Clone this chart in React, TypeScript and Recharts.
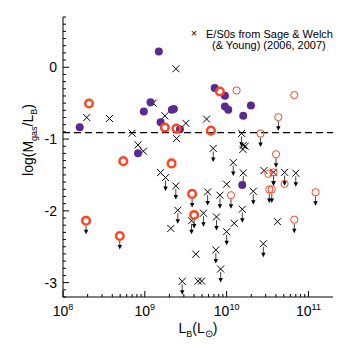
import React from 'react';
import { ScatterChart, Scatter, XAxis, YAxis, ReferenceLine } from 'recharts';

// [log10(L_B), log(Mgas/L_B)]
const purpleDetections: [number, number][] = [
  [9.171, 0.22], [9.07, -0.488], [8.988, -0.616], [9.193, -0.767], [9.33, -0.593],
  [9.355, -0.583], [9.429, -0.865], [8.204, -0.834], [8.917, -1.197], [9.854, -0.29],
  [9.979, -0.397], [9.979, -0.547], [10.02, -0.593], [10.297, -0.533], [10.203, -0.676],
  [10.191, -1.639],
];

const thickDetections: [number, number][] = [
  [8.318, -0.505], [9.245, -0.84], [9.386, -0.854], [9.918, -0.338], [9.808, -0.883],
  [8.737, -1.308], [9.327, -1.339],
];
const thickLimits: [number, number][] = [
  [9.578, -1.764], [9.603, -2.057], [8.282, -2.137], [8.694, -2.35],
];

const thinDetections: [number, number][] = [
  [10.122, -0.324], [10.827, -0.388], [10.51, -1.485], [10.708, -1.625],
];
const thinLimits: [number, number][] = [
  [10.632, -0.695], [10.414, -0.923], [10.604, -1.211], [10.573, -1.464], [10.053, -1.782],
  [10.521, -1.702], [10.552, -1.702], [11.087, -1.741], [10.827, -2.123],
];

const crossDetections: [number, number][] = [
  [9.38, -0.021], [9.102, -0.499], [8.29, -0.7], [8.568, -0.714], [9.245, -0.676],
  [9.502, -0.781], [9.755, -0.722], [8.845, -0.918], [9.388, -0.994], [8.917, -1.081],
  [8.982, -1.169], [10.203, -1.088], [10.227, -1.099], [10.199, -1.144], [9.193, -1.467],
  [9.318, -2.245], [10.457, -1.439], [10.0, -1.629], [10.093, -2.173], [10.622, -2.151],
  [9.624, -2.604], [9.652, -2.978], [9.694, -2.978],
];
const crossLimits: [number, number][] = [
  [9.253, -1.537], [9.379, -1.653], [9.403, -1.992], [9.571, -2.138], [9.457, -2.982],
  [9.836, -1.13], [10.183, -0.921], [10.081, -1.328], [10.203, -1.471], [10.573, -1.462],
  [10.708, -1.464], [10.845, -1.476], [9.768, -1.736], [9.918, -1.782], [10.326, -1.727],
  [9.717, -2.033], [9.876, -2.085], [10.191, -1.978], [10.0, -2.29], [10.449, -2.459],
  [9.868, -2.545], [9.927, -2.81],
];

const dashedLevel = -0.91;

const xMajor = [8, 9, 10, 11];
const xMinorFactors = [2, 3, 4, 5, 6, 7, 8, 9];
const yMajor = [-3, -2, -1, 0];
const xDomain: [number, number] = [8, 11.3];
const yDomain: [number, number] = [-3.2, 0.7];

const xTicks: number[] = [];
xMajor.forEach(e => {
  xTicks.push(e);
  xMinorFactors.forEach(f => {
    const v = e + Math.log10(f);
    if (v < xDomain[1]) xTicks.push(v);
  });
});
const yTicks: number[] = [];
for (let i = -32; i <= 7; i++) yTicks.push(Math.round(i) / 10);

const toPoints = (arr: [number, number][], ul: boolean) => arr.map(([x, y]) => ({ x, y, ul }));

const FONT = '"Liberation Sans", Arial, Helvetica, sans-serif';
const RED = '#ff4424';
const PURPLE = '#5a2a8e';

const isMajor = (v: number) => Math.abs(v - Math.round(v)) < 1e-6;

const Arrow = ({ cx, cy, start }: { cx: number; cy: number; start: number }) => (
  <g>
    <line x1={cx} y1={cy + start} x2={cx} y2={cy + 10} stroke="#444" strokeWidth={1} />
    <path d={`M${cx - 2.2},${cy + 9}L${cx + 2.2},${cy + 9}L${cx},${cy + 13.5}Z`} fill="#000" />
  </g>
);

const CrossShape = (props: any) => {
  const { cx, cy, payload } = props;
  const s = 3.5;
  return (
    <g>
      <path
        d={`M${cx - s},${cy - s}L${cx + s},${cy + s}M${cx - s},${cy + s}L${cx + s},${cy - s}`}
        stroke="#000"
        strokeWidth={1}
      />
      {payload.ul && <Arrow cx={cx} cy={cy} start={3} />}
    </g>
  );
};

const ThickShape = (props: any) => {
  const { cx, cy, payload } = props;
  return (
    <g>
      {payload.ul && <Arrow cx={cx} cy={cy} start={5} />}
      <circle cx={cx} cy={cy} r={3.8} fill="none" stroke={RED} strokeWidth={2.5} />
    </g>
  );
};

const ThinShape = (props: any) => {
  const { cx, cy, payload } = props;
  return (
    <g>
      {payload.ul && <Arrow cx={cx} cy={cy} start={4} />}
      <circle cx={cx} cy={cy} r={3.6} fill="none" stroke={RED} strokeWidth={1} />
    </g>
  );
};

const PurpleShape = (props: any) => {
  const { cx, cy } = props;
  return <circle cx={cx} cy={cy} r={4} fill={PURPLE} />;
};

const BottomTick = (props: any) => {
  const { x, y, payload } = props;
  const v = payload.value;
  const major = isMajor(v);
  return (
    <g>
      <line x1={x} y1={y} x2={x} y2={y - (major ? 6 : 3)} stroke="#000" />
      {major && (
        <text x={x} y={y + 19} textAnchor="middle" fontSize={14} fontFamily={FONT} fill="#000">
          10
          <tspan dy={-6} fontSize={9}>{Math.round(v)}</tspan>
        </text>
      )}
    </g>
  );
};

const TopTick = (props: any) => {
  const { x, y, payload } = props;
  const major = isMajor(payload.value);
  return <line x1={x} y1={y} x2={x} y2={y + (major ? 6 : 3)} stroke="#000" />;
};

const LeftTick = (props: any) => {
  const { x, y, payload } = props;
  const v = payload.value;
  const major = isMajor(v);
  return (
    <g>
      <line x1={x} y1={y} x2={x + (major ? 6 : 3)} y2={y} stroke="#000" />
      {major && (
        <text x={x - 6} y={y + 5} textAnchor="end" fontSize={14} fontFamily={FONT} fill="#000">
          {String(Math.round(v))}
        </text>
      )}
    </g>
  );
};

const RightTick = (props: any) => {
  const { x, y, payload } = props;
  const major = isMajor(payload.value);
  return <line x1={x} y1={y} x2={x - (major ? 6 : 3)} y2={y} stroke="#000" />;
};

const XTitle = (props: any) => {
  const { viewBox } = props;
  const cx = viewBox.x + viewBox.width / 2;
  return (
    <text x={cx} y={viewBox.y + 36} textAnchor="middle" fontSize={14} fontFamily={FONT} fill="#000">
      L<tspan dy={4} fontSize={9}>B</tspan>
      <tspan dy={-4}>(L</tspan>
      <tspan dy={4} fontSize={10}>⊙</tspan>
      <tspan dy={-4}>)</tspan>
    </text>
  );
};

const YTitle = () => (
  <text
    x={0}
    y={0}
    transform="translate(33, 140) rotate(-90)"
    textAnchor="middle"
    fontSize={14}
    fontFamily={FONT}
    fill="#000"
  >
    log(M<tspan dy={4} fontSize={9}>gas</tspan>
    <tspan dy={-4}>/L</tspan>
    <tspan dy={4} fontSize={9}>B</tspan>
    <tspan dy={-4}>)</tspan>
  </text>
);

export default function App() {
  return (
    <div style={{ position: 'absolute', left: 0, top: 0, width: 350, height: 350, background: '#fff' }}>
      <ScatterChart width={350} height={350} margin={{ top: 17, right: 17, bottom: 18, left: 23 }}>
        <XAxis
          xAxisId="b"
          type="number"
          dataKey="x"
          domain={xDomain}
          allowDataOverflow
          ticks={xTicks}
          interval={0}
          tickSize={0}
          tickMargin={0}
          tick={<BottomTick />}
          height={35}
          axisLine={{ stroke: '#000' }}
          label={<XTitle />}
        />
        <XAxis
          xAxisId="t"
          orientation="top"
          type="number"
          dataKey="x"
          domain={xDomain}
          allowDataOverflow
          ticks={xTicks}
          interval={0}
          tickSize={0}
          tickMargin={0}
          tick={<TopTick />}
          height={0}
          axisLine={{ stroke: '#000' }}
        />
        <YAxis
          yAxisId="l"
          type="number"
          dataKey="y"
          domain={yDomain}
          allowDataOverflow
          ticks={yTicks}
          interval={0}
          tickSize={0}
          tickMargin={0}
          tick={<LeftTick />}
          width={40}
          axisLine={{ stroke: '#000' }}
          label={<YTitle />}
        />
        <YAxis
          yAxisId="r"
          orientation="right"
          type="number"
          dataKey="y"
          domain={yDomain}
          allowDataOverflow
          ticks={yTicks}
          interval={0}
          tickSize={0}
          tickMargin={0}
          tick={<RightTick />}
          width={0}
          axisLine={{ stroke: '#000' }}
        />
        <ReferenceLine
          xAxisId="b"
          yAxisId="l"
          y={dashedLevel}
          stroke="#000"
          strokeWidth={1.2}
          strokeDasharray="7 4"
        />
        <Scatter xAxisId="t" yAxisId="r" data={[]} isAnimationActive={false} />
        <Scatter xAxisId="b" yAxisId="l" data={toPoints(crossDetections, false)} shape={<CrossShape />} isAnimationActive={false} />
        <Scatter xAxisId="b" yAxisId="l" data={toPoints(crossLimits, true)} shape={<CrossShape />} isAnimationActive={false} />
        <Scatter xAxisId="b" yAxisId="l" data={toPoints(thinDetections, false)} shape={<ThinShape />} isAnimationActive={false} />
        <Scatter xAxisId="b" yAxisId="l" data={toPoints(thinLimits, true)} shape={<ThinShape />} isAnimationActive={false} />
        <Scatter xAxisId="b" yAxisId="l" data={toPoints(purpleDetections, false)} shape={<PurpleShape />} isAnimationActive={false} />
        <Scatter xAxisId="b" yAxisId="l" data={toPoints(thickDetections, false)} shape={<ThickShape />} isAnimationActive={false} />
        <Scatter xAxisId="b" yAxisId="l" data={toPoints(thickLimits, true)} shape={<ThickShape />} isAnimationActive={false} />
      </ScatterChart>
      <svg
        width={350}
        height={60}
        style={{ position: 'absolute', left: 0, top: 0, pointerEvents: 'none' }}
      >
        <text x={194} y={37} textAnchor="middle" fontSize={11} fontFamily={FONT} fill="#000">×</text>
        <text x={206} y={38} fontSize={11} fontFamily={FONT} fill="#000">E/S0s from Sage &amp; Welch</text>
        <text x={212} y={49} fontSize={11} fontFamily={FONT} fill="#000">(&amp; Young) (2006, 2007)</text>
      </svg>
    </div>
  );
}
